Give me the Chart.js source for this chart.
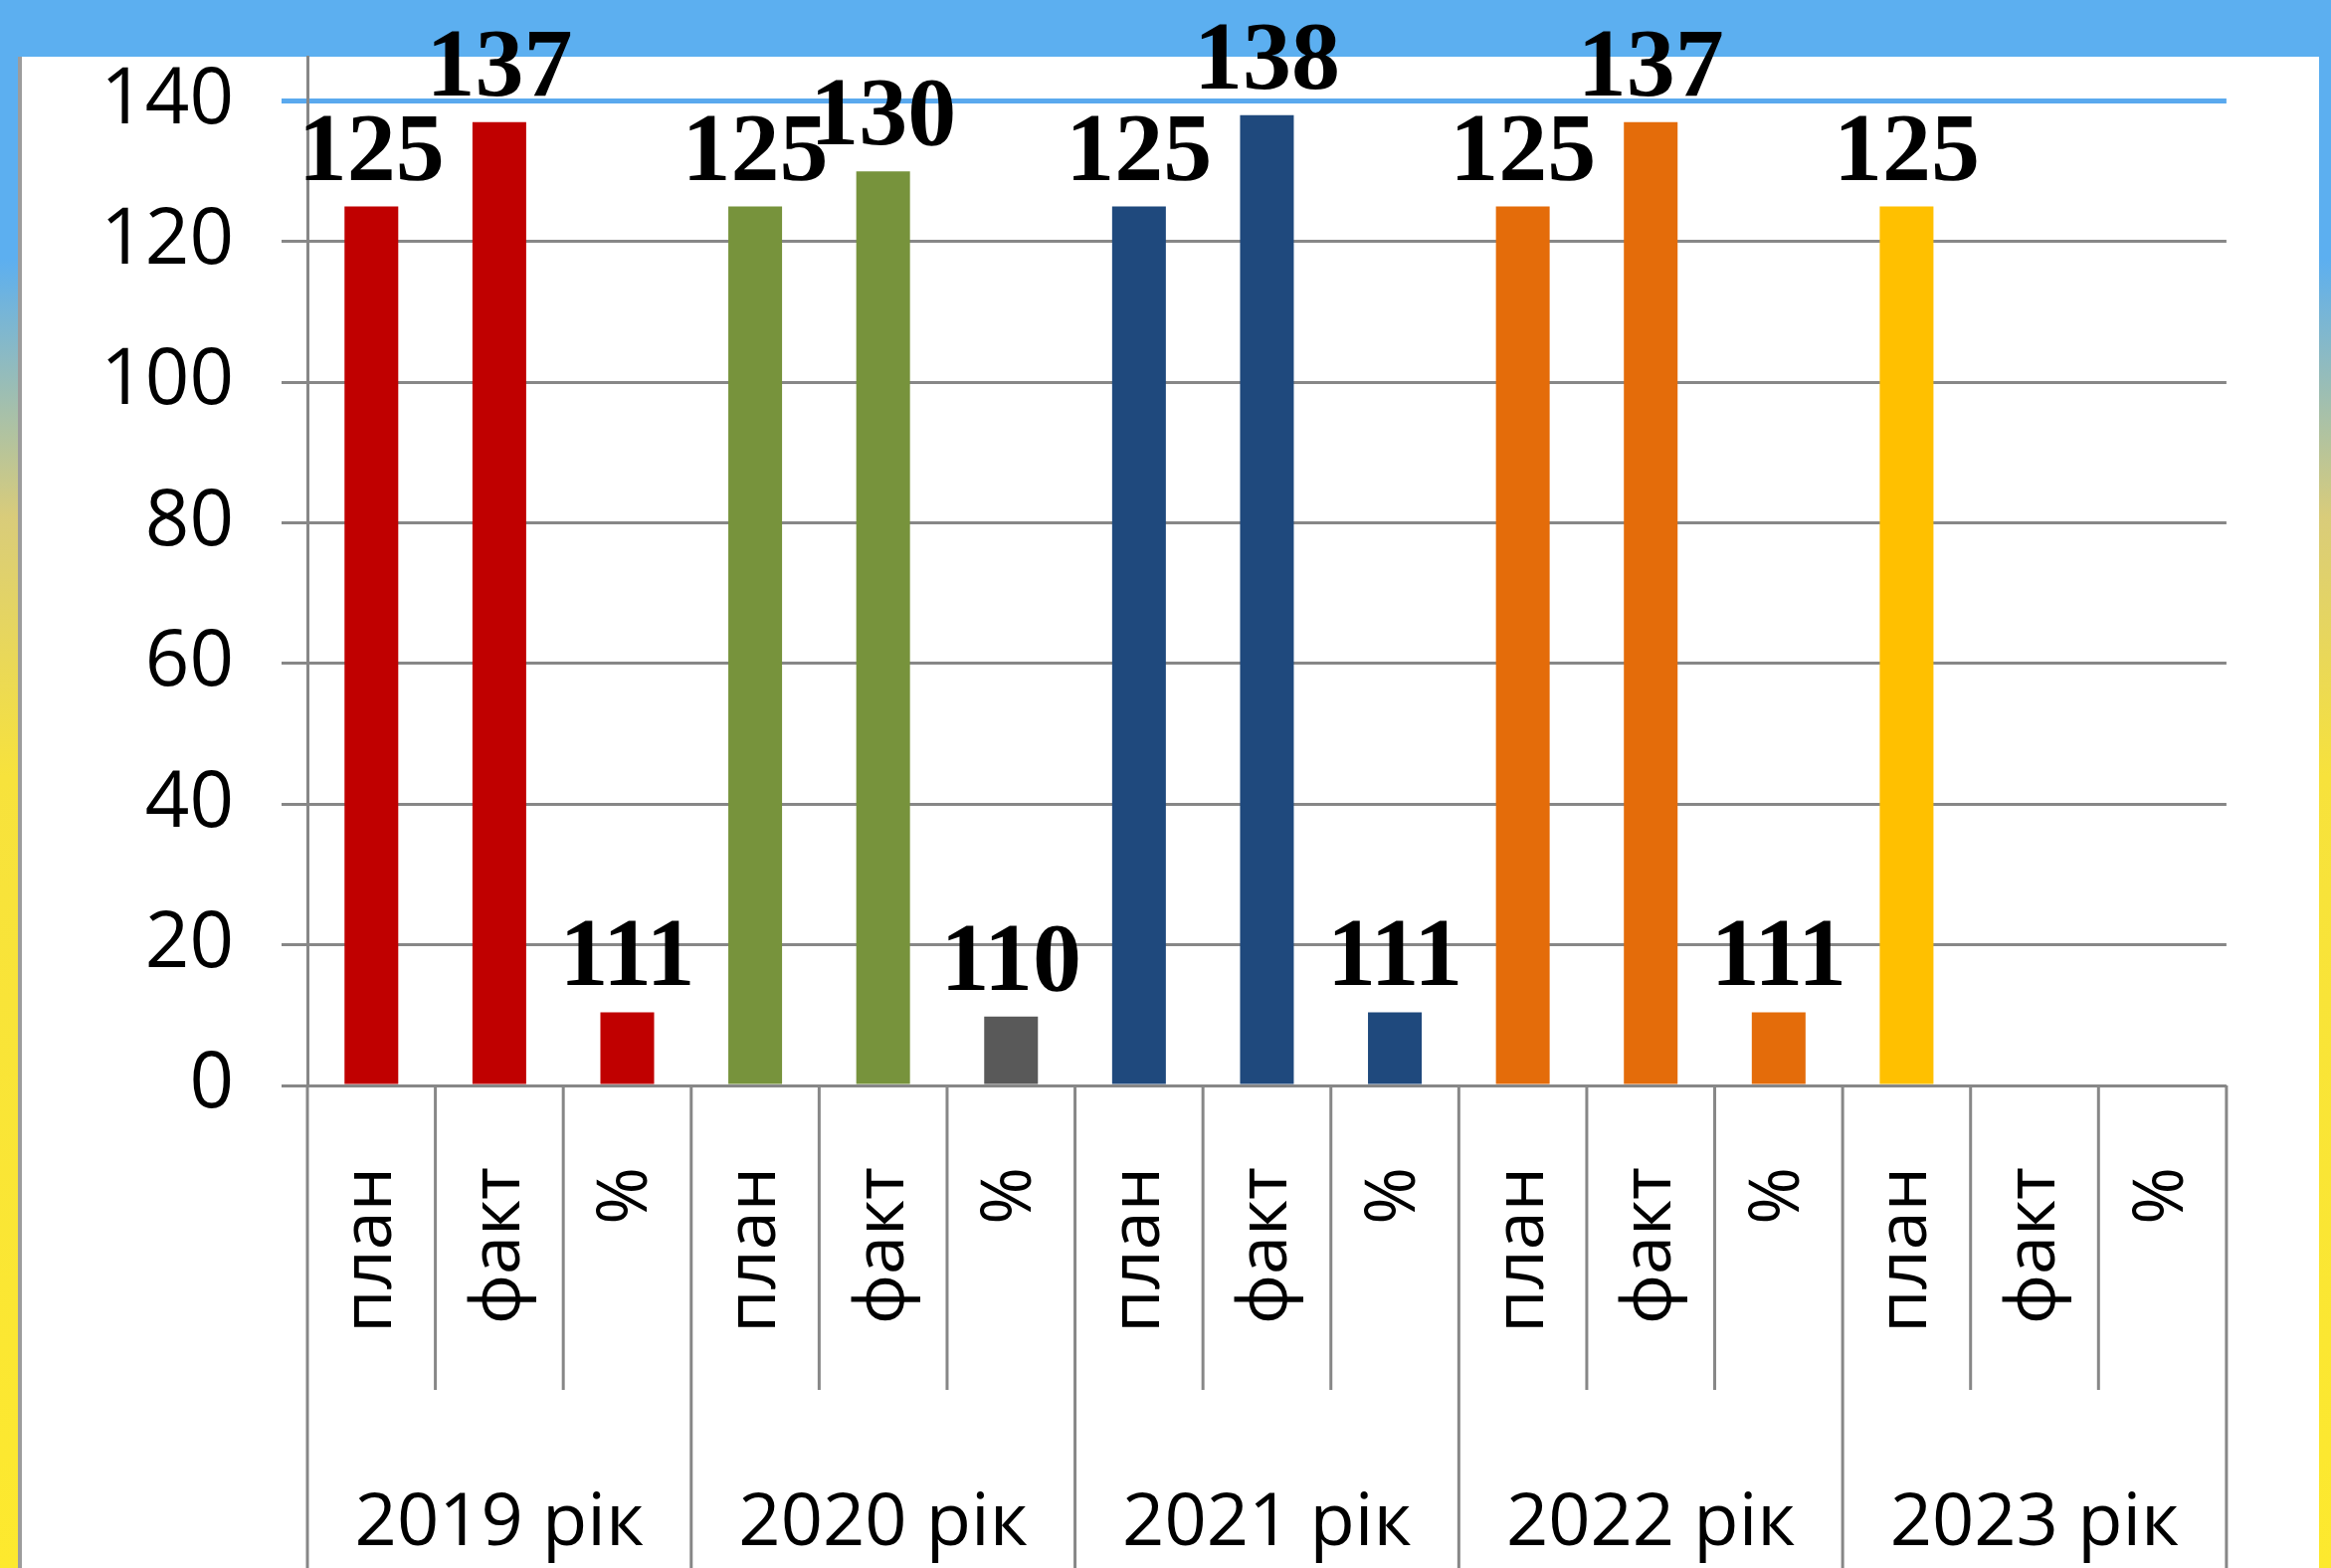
<!DOCTYPE html>
<html>
<head>
<meta charset="utf-8">
<script src="https://cdn.jsdelivr.net/npm/chart.js@4.4.1/dist/chart.umd.min.js"></script>
<style>
html, body { margin: 0; padding: 0; width: 2343px; height: 1576px; overflow: hidden; }
body {
    position: relative;
    background: linear-gradient(to bottom, #5caff0 0px, #5caff0 260px, #d9cc7a 520px, #f7e23c 780px, #fde92e 1576px);
}
#panel {
    position: absolute; left: 18px; top: 57px; width: 2313px; height: 1519px;
    background: #fff; border-left: 4px solid #9c9c9c; box-sizing: border-box;
}
#myChart { position: absolute; left: 0; top: 0; }
</style>
</head>
<body>
<div id="panel"></div>
<canvas id="myChart" width="2343" height="1576"></canvas>
<script>
const ctx = document.getElementById('myChart').getContext('2d');

const subLabels = ['план', 'факт', '%', 'план', 'факт', '%', 'план', 'факт', '%', 'план', 'факт', '%', 'план', 'факт', '%'];
const years = ['2019 рік', '2020 рік', '2021 рік', '2022 рік', '2023 рік'];
// bar heights as drawn (the % bars are drawn short, their labels say 111 / 110)
const values = [125, 137, 10.4, 125, 130, 9.8, 125, 138, 10.4, 125, 137, 10.4, 125, null, null];
const valueLabels = ['125', '137', '111', '125', '130', '110', '125', '138', '111', '125', '137', '111', '125', '', ''];

const barColors = [
    '#c00000', '#c00000', '#c00000',
    '#77933c', '#77933c', '#595959',
    '#1f497d', '#1f497d', '#1f497d',
    '#e46c0a', '#e46c0a', '#e46c0a',
    '#ffc000', '#ffc000', '#ffc000'
];

const gridGray = '#878787';

// value labels above bars
const valueLabelPlugin = {
    id: 'valueLabels',
    afterDatasetsDraw(chart) {
        const c = chart.ctx;
        const meta = chart.getDatasetMeta(0);
        c.save();
        c.fillStyle = '#000';
        c.font = 'bold 98px "Liberation Serif"';
        c.textAlign = 'center';
        c.textBaseline = 'alphabetic';
        meta.data.forEach((bar, i) => {
            if (values[i] == null) return;
            c.fillText(valueLabels[i], bar.x, bar.y - 27);
        });
        c.restore();
    }
};

// separators and year labels under the axis
const groupPlugin = {
    id: 'groups',
    afterDraw(chart) {
        const c = chart.ctx;
        const x = chart.scales.x;
        const n = subLabels.length;
        c.save();
        c.strokeStyle = gridGray;
        c.lineWidth = 3;
        for (let i = 0; i <= n; i++) {
            let px;
            if (i === 0) px = x.left;
            else if (i === n) px = x.right;
            else px = (x.getPixelForValue(i - 1) + x.getPixelForValue(i)) / 2;
            const isGroup = i % 3 === 0;
            c.beginPath();
            c.moveTo(px, x.top);
            c.lineTo(px, isGroup ? chart.height : x.top + 306);
            c.stroke();
        }
        c.fillStyle = '#000';
        c.font = '74px "Open Sans"';
        c.textAlign = 'center';
        c.textBaseline = 'middle';
        years.forEach((yr, g) => {
            const cx = (x.getPixelForValue(g * 3) + x.getPixelForValue(g * 3 + 2)) / 2;
            c.fillText(yr, cx, 1532);
        });
        c.restore();
    }
};

const data = {
    labels: subLabels,
    datasets: [
        {
            data: values,
            backgroundColor: barColors,
            categoryPercentage: 1,
            barPercentage: 0.42
        }
    ]
};

const config = {
    type: 'bar',
    data: data,
    options: {
        responsive: false,
        animation: false,
        devicePixelRatio: 1,
        layout: {
            padding: { top: 57, right: 102, left: 0, bottom: 0 }
        },
        plugins: {
            legend: { display: false },
            tooltip: { enabled: false }
        },
        scales: {
            x: {
                grid: { display: false, drawTicks: false },
                border: { display: false },
                ticks: {
                    autoSkip: false,
                    minRotation: 90,
                    maxRotation: 90,
                    padding: 82,
                    color: '#000',
                    font: { family: 'Open Sans', size: 70 }
                },
                afterFit: (scale) => { scale.height = 485; }
            },
            y: {
                min: 0,
                max: 146.3,
                ticks: {
                    stepSize: 20,
                    includeBounds: false,
                    padding: 48,
                    color: '#000',
                    font: { family: 'Open Sans', size: 78 }
                },
                grid: {
                    color: (c) => (c.tick && c.tick.value === 140 ? '#5aa9ee' : gridGray),
                    lineWidth: (c) => (c.tick && c.tick.value === 140 ? 5 : 3),
                    tickLength: 26
                },
                border: { color: gridGray, width: 3 },
                afterFit: (scale) => {
                    scale.width = 309;
                    scale.paddingTop = 0;
                    scale.paddingBottom = 0;
                }
            }
        }
    },
    plugins: [valueLabelPlugin, groupPlugin]
};

const myChart = new Chart(ctx, config);
</script>
</body>
</html>
